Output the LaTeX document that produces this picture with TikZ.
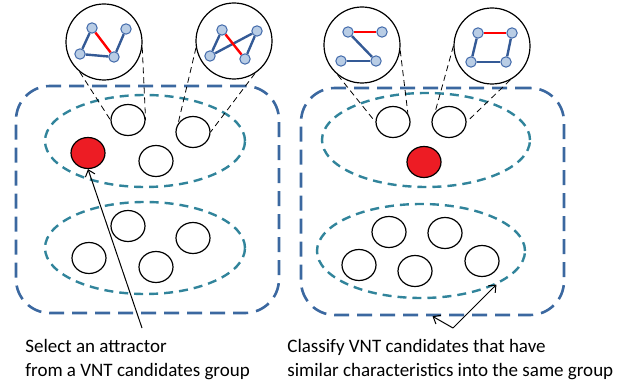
\documentclass[tikz,border=0pt]{standalone}
\usepackage{fontspec}
\setmainfont{Carlito}
\usetikzlibrary{shapes.geometric,arrows.meta}

\definecolor{boxblue}{RGB}{59,104,160}
\definecolor{grpteal}{RGB}{49,132,155}
\definecolor{selred}{RGB}{237,28,36}
\definecolor{dotfill}{RGB}{185,205,229}
\definecolor{dotline}{RGB}{65,105,170}
\definecolor{edgeblue}{RGB}{52,90,150}

\begin{document}
\begin{tikzpicture}[x=0.5pt,y=-0.5pt,
  box/.style={draw=boxblue,line width=1.3pt,dash pattern=on 7.5pt off 4pt,rounded corners=17pt,minimum width=131.5pt,minimum height=113.5pt},
  grp/.style={ellipse,draw=grpteal,line width=1.2pt,dash pattern=on 4.5pt off 3pt,inner sep=0pt},
  cand/.style={ellipse,draw,line width=0.6pt,minimum width=17pt,minimum height=15.5pt,inner sep=0pt},
  attr/.style={cand,fill=selred},
  lens/.style={circle,draw,line width=0.6pt,minimum size=38pt,inner sep=0pt},
  vnt/.style={circle,draw=dotline,fill=dotfill,line width=0.5pt,minimum size=5.2pt,inner sep=0pt},
  link/.style={edgeblue,line width=1.2pt},
  sel/.style={red,line width=1.2pt},
  zoomline/.style={densely dashed,line width=0.4pt},
  note/.style={align=left,inner sep=0pt,font=\fontsize{9.5}{11.8}\selectfont},
  pointer/.style={-{Straight Barb[length=3pt,width=5pt]},line width=0.5pt}]

\useasboundingbox (0,0) rectangle (630,384);

% Groups
\node[box] (box1) at (147.5,199.5) {};
\node[box] (box2) at (432.5,201.5) {};
\node[grp,minimum width=100pt,minimum height=46pt] (g1) at (145,141) {};
\node[grp,minimum width=100pt,minimum height=46pt] (g2) at (145,248) {};
\node[grp,minimum width=104pt,minimum height=47pt] (g3) at (426,140) {};
\node[grp,minimum width=104pt,minimum height=47pt] (g4) at (421,251) {};

% Candidates
\node[cand] (c11) at (128,120) {};
\node[cand] (c12) at (193,132) {};
\node[attr] (a1) at (88,153) {};
\node[cand] (c13) at (156,161) {};
\node[cand] (c14) at (128,226) {};
\node[cand] (c15) at (193,238) {};
\node[cand] (c16) at (89,258) {};
\node[cand] (c17) at (156,267) {};

\node[cand] (c21) at (393,122) {};
\node[cand] (c22) at (449,122) {};
\node[attr] (a2) at (424,162) {};
\node[cand] (c23) at (389,232) {};
\node[cand] (c24) at (445,233) {};
\node[cand] (c25) at (359,265) {};
\node[cand] (c26) at (415,271) {};
\node[cand] (c27) at (482,261) {};

% Lenses
\node[lens] (m1) at (104,42) {};
\node[lens] (m2) at (234,41) {};
\node[lens] (m3) at (362,45) {};
\node[lens] (m4) at (492,46) {};

\node[vnt] (p1a) at (92,28) {};
\node[vnt] (p1b) at (126,29) {};
\node[vnt] (p1c) at (80,54) {};
\node[vnt] (p1d) at (114,57) {};

\node[vnt] (p2a) at (222,30) {};
\node[vnt] (p2b) at (257,31) {};
\node[vnt] (p2c) at (210,56) {};
\node[vnt] (p2d) at (245,59) {};

\node[vnt] (p3a) at (348,32) {};
\node[vnt] (p3b) at (382,32) {};
\node[vnt] (p3c) at (341,61) {};
\node[vnt] (p3d) at (376,61) {};

\node[vnt] (p4a) at (478,33) {};
\node[vnt] (p4b) at (512,33) {};
\node[vnt] (p4c) at (471,62) {};
\node[vnt] (p4d) at (506,62) {};

% Links
\draw[link] (p1a) -- (p1c);
\draw[link] (p1c) -- (p1d);
\draw[link] (p1d) -- (p1b);
\draw[sel] (p1a) -- (p1d);

\draw[link] (p2a) -- (p2c);
\draw[link] (p2c) -- (p2b);
\draw[link] (p2b) -- (p2d);
\draw[sel] (p2a) -- (p2d);

\draw[sel] (p3a) -- (p3b);
\draw[link] (p3a) -- (p3d);
\draw[link] (p3c) -- (p3d);

\draw[sel] (p4a) -- (p4b);
\draw[link] (p4a) -- (p4c);
\draw[link] (p4c) -- (p4d);
\draw[link] (p4b) -- (p4d);

% Zoom lines
\draw[zoomline] (m1.231) -- (c11.west);
\draw[zoomline] (m1.-8) -- (c11.east);
\draw[zoomline] (m2.190) -- (c12.150);
\draw[zoomline] (m2.-57) -- (c12.east);
\draw[zoomline] (m3.231) -- (c21.west);
\draw[zoomline] (m3.-8) -- (c21.30);
\draw[zoomline] (m4.180) -- (c22.145);
\draw[zoomline] (m4.-62) -- (c22.east);

% Notes
\node[note,anchor=north west] (t1) at (25,339) {Select an attractor\\from a VNT candidates group};
\node[note,anchor=north west] (t2) at (287,339) {Classify VNT candidates that have\\similar characteristics into the same group};

% Arrows
\coordinate (q1) at (142,328);
\coordinate (q2) at (453,328);
\draw[pointer] (q1) -- (a1.south);
\draw[pointer] (q2) -- (box2.south);
\draw[pointer] (q2) -- (g4.-24);

\end{tikzpicture}
\end{document}
